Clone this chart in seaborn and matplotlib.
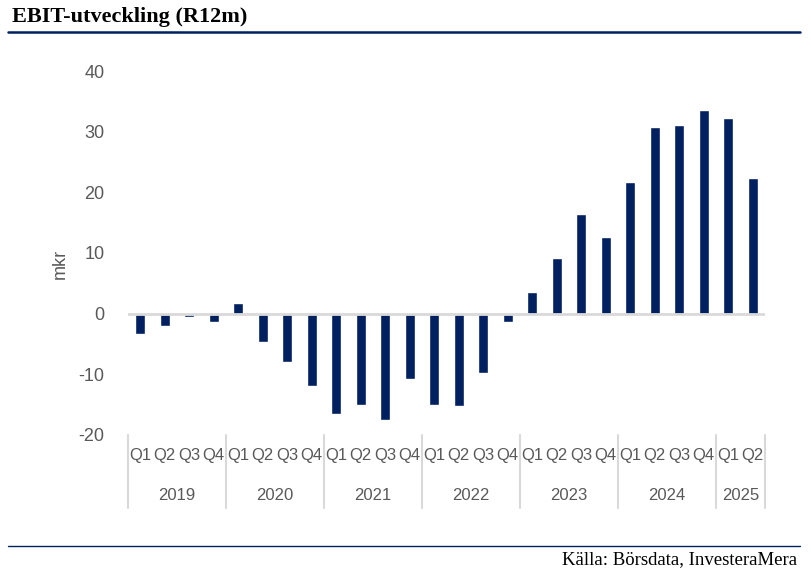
import matplotlib
matplotlib.use("Agg")
import matplotlib.pyplot as plt
import matplotlib.transforms as mtransforms
from matplotlib.lines import Line2D
import seaborn as sns
import pandas as pd

years = ['2019', '2020', '2021', '2022', '2023', '2024', '2025']
quarters_per_year = [4, 4, 4, 4, 4, 4, 2]
quarter_names = ['Q1', 'Q2', 'Q3', 'Q4']
ebit = [-3.4, -2.1, -0.6, -1.3,
        1.7, -4.6, -8.0, -11.9,
        -16.6, -15.0, -17.6, -10.7,
        -15.1, -15.3, -9.7, -1.3,
        3.6, 9.1, 16.5, 12.7,
        21.7, 30.8, 31.1, 33.6,
        32.3, 22.4]
yticks = [-20, -10, 0, 10, 20, 30, 40]

labels, qlabels = [], []
for y, n in zip(years, quarters_per_year):
    for q in quarter_names[:n]:
        labels.append(f"{y} {q}")
        qlabels.append(q)
df = pd.DataFrame({"period": labels, "value": ebit})

sns.set_style("white")
plt.rcParams['font.family'] = ['Liberation Sans', 'DejaVu Sans']

W, H = 811, 575
fig = plt.figure(figsize=(W / 100, H / 100), dpi=100)
left, right, top, bottom = 128, 765, 71, 435
ax = fig.add_axes([left / W, 1 - bottom / H, (right - left) / W, (bottom - top) / H])

navy = '#002060'
sns.barplot(data=df, x="period", y="value", order=labels, color=navy,
            width=0.41, ax=ax, saturation=1)
ax.set_xlim(-0.5, len(labels) - 0.5)
ax.set_ylim(-20, 40)
ax.set_yticks(yticks)
ax.set_yticklabels([str(t) for t in yticks])
ax.tick_params(axis='y', length=0, pad=17, labelsize=13, labelcolor='#595959')
ax.set_xticks([])
ax.set_xlabel('')
ax.set_ylabel('mkr', fontsize=13, color='#595959')
ax.yaxis.set_label_coords(-0.093, 0.47)
for s in ax.spines.values():
    s.set_visible(False)
ax.axhline(0, color='#D9D9D9', lw=2, zorder=5)

trans = mtransforms.blended_transform_factory(ax.transData, ax.transAxes)
for i, q in enumerate(qlabels):
    ax.text(i, -0.055, q, transform=trans, ha='center', va='center',
            fontsize=12, color='#595959')
start = 0
bounds = [-0.5]
for y, n in zip(years, quarters_per_year):
    center = start + (n - 1) / 2
    ax.text(center, -0.165, y, transform=trans, ha='center', va='center',
            fontsize=12, color='#595959')
    start += n
    bounds.append(start - 0.5)
for b in bounds:
    ax.add_line(Line2D([b, b], [0, -0.2], transform=trans, color='#D9D9D9',
                       lw=1.5, clip_on=False))

fig.text(12 / W, 1 - 17 / H, 'EBIT-utveckling (R12m)', fontsize=16, fontweight='bold',
         family=['Liberation Serif', 'DejaVu Serif'], ha='left', va='center', color='black')
fig.add_artist(Line2D([8 / W, 800 / W], [1 - 32 / H] * 2, color=navy, lw=1.8))
fig.add_artist(Line2D([8 / W, 800 / W], [1 - 546 / H] * 2, color=navy, lw=1))
fig.text(797 / W, 1 - 560 / H, 'Källa: Börsdata, InvesteraMera', fontsize=13.5,
         family=['Liberation Serif', 'DejaVu Serif'], ha='right', va='center', color='black')

fig.savefig('out.png', dpi=100)
